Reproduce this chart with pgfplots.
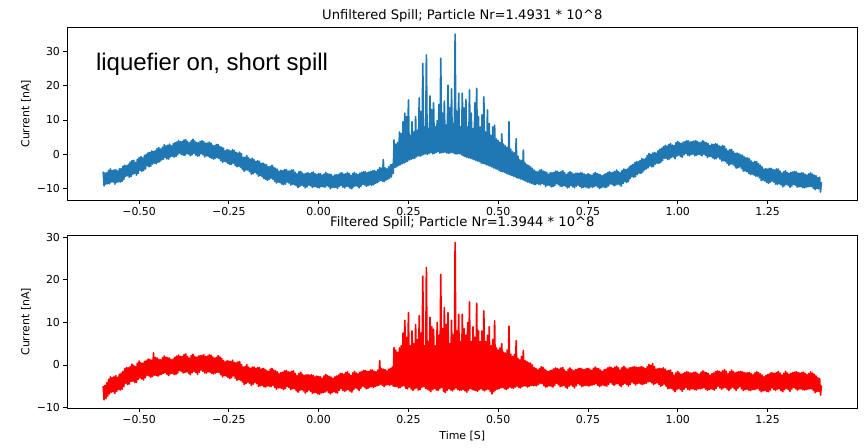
\documentclass[border=0pt]{standalone}
\usepackage{fontspec}
\setmainfont{DejaVu Sans}
\newfontfamily\arialfont{Liberation Sans}
\usepackage{pgfplots}
\usepackage{pgfplotstable}
\pgfplotsset{compat=1.18}
\definecolor{mplblue}{HTML}{1F77B4}
\definecolor{mplred}{HTML}{FF0000}

% unfiltered spill, one value every 0.0025 s from -0.6 s to 1.4 s
\pgfplotstableread[row sep=\\]{
y\\
-5.0\\ -9.1\\ -5.4\\ -8.6\\ -5.3\\ -8.5\\ -4.6\\ -8.5\\ -4.2\\ -8.0\\ -4.7\\ -8.0\\ -4.5\\ -8.6\\ -4.4\\ -8.1\\ -4.8\\ -7.9\\ -4.2\\ -8.0\\
-4.1\\ -7.8\\ -3.4\\ -7.3\\ -3.1\\ -6.4\\ -3.3\\ -6.2\\ -2.9\\ -6.6\\ -2.2\\ -6.4\\ -1.8\\ -5.8\\ -1.7\\ -5.5\\ -2.3\\ -6.0\\ -1.4\\ -5.5\\
-0.9\\ -4.6\\ -0.6\\ -4.9\\ -1.0\\ -4.7\\ -0.3\\ -4.2\\ 0.0\\ -3.3\\ 0.5\\ -3.6\\ 0.6\\ -3.4\\ 1.0\\ -2.8\\ 0.9\\ -2.5\\ 1.1\\ -2.7\\
1.7\\ -2.3\\ 2.0\\ -2.1\\ 1.6\\ -1.6\\ 2.1\\ -1.4\\ 2.8\\ -0.9\\ 2.5\\ -1.3\\ 2.7\\ -1.3\\ 3.0\\ -0.7\\ 2.5\\ -0.5\\ 3.1\\ -0.8\\
3.4\\ -0.6\\ 3.6\\ -0.1\\ 4.0\\ 0.4\\ 3.7\\ 0.0\\ 3.8\\ -0.2\\ 4.2\\ -0.3\\ 4.3\\ 0.2\\ 3.8\\ 0.1\\ 3.4\\ -0.4\\ 4.0\\ -0.1\\
4.4\\ 0.3\\ 3.9\\ -0.2\\ 3.5\\ -0.5\\ 3.4\\ -0.4\\ 3.8\\ 0.2\\ 4.0\\ -0.1\\ 3.7\\ -0.7\\ 3.3\\ -0.4\\ 3.3\\ -0.5\\ 3.6\\ -0.9\\
3.3\\ -1.1\\ 2.7\\ -1.4\\ 2.5\\ -1.1\\ 2.9\\ -0.9\\ 2.9\\ -1.2\\ 2.3\\ -1.8\\ 2.1\\ -2.3\\ 1.8\\ -2.0\\ 1.1\\ -2.2\\ 1.4\\ -2.6\\
1.3\\ -2.9\\ 1.0\\ -2.9\\ 1.4\\ -2.5\\ 1.2\\ -3.2\\ 0.6\\ -3.6\\ 0.4\\ -3.4\\ 0.7\\ -3.7\\ 0.2\\ -4.3\\ -0.8\\ -4.9\\ -0.8\\ -4.5\\
-0.3\\ -4.5\\ -1.0\\ -5.0\\ -1.4\\ -5.7\\ -1.1\\ -5.6\\ -1.5\\ -5.2\\ -2.0\\ -5.6\\ -1.8\\ -6.3\\ -2.0\\ -6.1\\ -2.6\\ -6.5\\ -2.5\\ -7.0\\
-2.8\\ -7.2\\ -3.0\\ -7.5\\ -3.6\\ -7.2\\ -3.5\\ -6.9\\ -3.1\\ -7.2\\ -3.7\\ -7.8\\ -4.0\\ -8.3\\ -4.3\\ -8.0\\ -4.9\\ -8.2\\ -4.6\\ -8.6\\
-4.7\\ -8.8\\ -4.4\\ -8.6\\ -4.4\\ -8.0\\ -4.8\\ -8.3\\ -4.8\\ -8.9\\ -4.5\\ -8.6\\ -4.5\\ -8.8\\ -5.2\\ -9.1\\ -5.6\\ -9.6\\ -5.0\\ -9.3\\
-4.9\\ -8.9\\ -5.4\\ -9.2\\ -5.7\\ -9.7\\ -5.4\\ -9.4\\ -5.3\\ -8.9\\ -5.6\\ -9.1\\ -5.3\\ -9.6\\ -5.1\\ -9.3\\ -5.6\\ -9.4\\ -5.8\\ -9.6\\
-5.5\\ -9.7\\ -5.6\\ -9.3\\ -6.0\\ -9.4\\ -5.7\\ -9.5\\ -5.2\\ -9.1\\ -5.6\\ -9.3\\ -5.7\\ -10.0\\ -5.8\\ -9.6\\ -6.3\\ -9.6\\ -5.9\\ -9.5\\
-5.9\\ -9.9\\ -5.8\\ -9.3\\ -5.4\\ -9.0\\ -5.3\\ -9.5\\ -5.7\\ -9.7\\ -5.6\\ -9.2\\ -5.2\\ -9.3\\ -5.5\\ -9.8\\ -6.1\\ -10.0\\ -5.5\\ -9.4\\
-5.2\\ -9.1\\ -5.6\\ -9.2\\ -5.8\\ -9.7\\ -5.4\\ -9.3\\ -5.2\\ -8.7\\ -5.0\\ -8.8\\ -5.0\\ -9.2\\ -5.3\\ -9.0\\ -5.1\\ -8.8\\ -4.9\\ -9.0\\
-4.8\\ -8.8\\ -4.6\\ -8.4\\ -4.9\\ -8.2\\ -4.4\\ -7.9\\ -3.8\\ -7.5\\ -4.0\\ -7.8\\ -1.5\\ -7.9\\ -3.9\\ -7.4\\ -4.2\\ -7.2\\ -3.6\\ -6.9\\
-3.0\\ -6.5\\ -2.8\\ -5.5\\ 4.2\\ -3.8\\ 3.0\\ -3.6\\ 3.5\\ -3.2\\ 6.5\\ -3.0\\ 6.0\\ -2.7\\ 9.5\\ -2.5\\ 12.0\\ -2.2\\ 11.0\\ -2.0\\
15.8\\ -1.6\\ 5.5\\ -1.4\\ 9.5\\ -1.2\\ 6.5\\ -1.1\\ 11.0\\ -0.7\\ 7.0\\ -0.4\\ 16.4\\ -0.5\\ 12.5\\ -0.3\\ 26.4\\ 0.0\\ 8.0\\ 0.2\\
28.9\\ 0.0\\ 7.5\\ 0.3\\ 17.0\\ 0.5\\ 13.0\\ 0.2\\ 15.0\\ 0.3\\ 8.0\\ 0.6\\ 9.8\\ 0.8\\ 14.5\\ 0.4\\ 27.9\\ 0.5\\ 12.0\\ 0.6\\
15.5\\ 0.7\\ 8.5\\ 0.4\\ 20.1\\ 0.3\\ 13.5\\ 0.5\\ 19.0\\ 0.6\\ 9.0\\ 0.3\\ 34.9\\ 0.1\\ 12.5\\ 0.2\\ 17.8\\ 0.2\\ 8.0\\ -0.1\\
17.8\\ -0.4\\ 13.5\\ -0.6\\ 16.0\\ -0.8\\ 8.0\\ -1.0\\ 18.7\\ -1.1\\ 12.0\\ -1.3\\ 7.5\\ -1.5\\ 15.0\\ -1.7\\ 19.2\\ -1.9\\ 11.0\\ -2.1\\
8.0\\ -2.5\\ 11.5\\ -2.6\\ 16.7\\ -2.7\\ 6.5\\ -3.0\\ 12.9\\ -3.2\\ 9.0\\ -3.4\\ 5.5\\ -3.6\\ 8.0\\ -3.9\\ 8.5\\ -4.1\\ 4.5\\ -4.3\\
4.0\\ -4.7\\ 3.5\\ -4.9\\ 6.0\\ -5.0\\ 3.0\\ -5.2\\ 2.5\\ -5.5\\ 2.0\\ -5.7\\ 9.5\\ -5.9\\ 1.5\\ -6.1\\ 0.8\\ -6.3\\ 0.5\\ -6.5\\
4.6\\ -6.8\\ -0.5\\ -6.9\\ -1.5\\ -7.1\\ -1.8\\ -7.3\\ 1.3\\ -7.6\\ -2.5\\ -7.8\\ -3.0\\ -8.0\\ -3.2\\ -8.2\\ -3.6\\ -8.4\\ -4.0\\ -8.6\\
-4.5\\ -8.8\\ -4.9\\ -8.5\\ -5.1\\ -8.6\\ -4.6\\ -8.8\\ -4.4\\ -8.4\\ -4.8\\ -8.7\\ -5.0\\ -9.3\\ -5.2\\ -8.9\\ -5.7\\ -9.0\\ -5.3\\ -9.4\\
-5.3\\ -9.3\\ -5.2\\ -9.0\\ -4.8\\ -8.5\\ -4.9\\ -8.8\\ -5.2\\ -9.2\\ -5.0\\ -9.3\\ -4.7\\ -9.0\\ -5.3\\ -9.2\\ -5.8\\ -9.7\\ -5.3\\ -9.5\\
-5.0\\ -9.0\\ -5.3\\ -9.4\\ -5.7\\ -9.7\\ -5.5\\ -9.2\\ -5.4\\ -8.9\\ -5.5\\ -9.3\\ -5.3\\ -9.7\\ -5.4\\ -9.5\\ -5.7\\ -9.4\\ -5.9\\ -9.6\\
-5.6\\ -9.8\\ -5.8\\ -9.4\\ -6.1\\ -9.5\\ -5.6\\ -9.3\\ -5.2\\ -9.1\\ -5.5\\ -9.5\\ -5.7\\ -9.9\\ -5.9\\ -9.6\\ -6.2\\ -9.4\\ -5.8\\ -9.6\\
-5.6\\ -9.5\\ -5.2\\ -9.1\\ -5.0\\ -8.5\\ -5.3\\ -8.7\\ -5.1\\ -9.1\\ -4.9\\ -8.9\\ -4.5\\ -8.6\\ -5.0\\ -8.8\\ -5.3\\ -9.2\\ -4.6\\ -8.4\\
-4.2\\ -7.9\\ -4.4\\ -8.1\\ -4.2\\ -7.9\\ -3.6\\ -7.0\\ -3.2\\ -6.4\\ -2.9\\ -6.6\\ -2.4\\ -6.4\\ -2.1\\ -5.8\\ -2.1\\ -5.4\\ -1.8\\ -5.5\\
-1.2\\ -5.1\\ -1.4\\ -4.5\\ -1.1\\ -4.2\\ -0.3\\ -3.9\\ 0.3\\ -3.3\\ 0.0\\ -3.6\\ 0.4\\ -3.5\\ 0.6\\ -2.8\\ 0.4\\ -2.5\\ 1.0\\ -2.6\\
1.5\\ -2.3\\ 1.8\\ -1.8\\ 2.3\\ -1.1\\ 2.6\\ -1.1\\ 2.4\\ -1.5\\ 2.9\\ -1.3\\ 3.2\\ -0.8\\ 2.7\\ -0.7\\ 2.6\\ -1.2\\ 3.4\\ -0.5\\
3.8\\ -0.2\\ 3.4\\ -0.6\\ 3.2\\ -0.8\\ 3.6\\ -0.1\\ 3.7\\ 0.3\\ 4.0\\ -0.2\\ 3.9\\ -0.4\\ 3.6\\ 0.0\\ 3.7\\ 0.1\\ 3.9\\ -0.4\\
4.0\\ -0.3\\ 3.8\\ 0.0\\ 3.4\\ -0.1\\ 3.6\\ -0.4\\ 4.0\\ 0.1\\ 3.6\\ -0.3\\ 3.4\\ -0.9\\ 3.1\\ -0.6\\ 2.6\\ -0.6\\ 3.0\\ -1.0\\
2.9\\ -1.3\\ 3.1\\ -1.2\\ 3.0\\ -0.8\\ 2.5\\ -1.3\\ 2.3\\ -1.9\\ 2.6\\ -1.8\\ 2.4\\ -2.0\\ 1.6\\ -2.6\\ 1.0\\ -3.1\\ 1.4\\ -2.8\\
1.5\\ -2.8\\ 0.8\\ -3.3\\ 0.3\\ -4.0\\ 0.4\\ -3.9\\ 0.2\\ -3.6\\ -0.1\\ -4.1\\ -0.2\\ -4.8\\ -0.7\\ -4.8\\ -1.0\\ -5.0\\ -1.0\\ -5.5\\
-1.3\\ -5.8\\ -1.9\\ -5.7\\ -2.3\\ -6.0\\ -2.0\\ -6.3\\ -2.1\\ -6.3\\ -2.7\\ -6.8\\ -3.1\\ -7.6\\ -3.6\\ -7.4\\ -4.3\\ -7.7\\ -4.1\\ -8.1\\
-4.3\\ -8.4\\ -4.0\\ -8.1\\ -4.0\\ -7.7\\ -4.4\\ -8.0\\ -4.5\\ -8.6\\ -4.2\\ -8.7\\ -4.2\\ -8.5\\ -4.8\\ -8.8\\ -5.4\\ -9.4\\ -5.0\\ -9.1\\
-4.7\\ -8.7\\ -5.2\\ -9.0\\ -5.5\\ -9.5\\ -5.2\\ -9.2\\ -5.1\\ -8.7\\ -4.9\\ -9.0\\ -5.1\\ -9.5\\ -5.4\\ -9.4\\ -5.5\\ -9.3\\ -5.3\\ -9.6\\
-5.4\\ -9.7\\ -5.8\\ -9.5\\ -6.0\\ -9.4\\ -5.6\\ -9.3\\ -5.3\\ -9.3\\ -5.7\\ -9.8\\ -6.0\\ -10.2\\ -6.2\\ -9.9\\ -6.7\\ -10.0\\ -6.6\\ -10.9\\
-8.0\\
}\topdata

% filtered spill, same time base
\pgfplotstableread[row sep=\\]{
y\\
-5.0\\ -8.2\\ -4.8\\ -7.9\\ -4.2\\ -7.3\\ -3.4\\ -6.8\\ -2.8\\ -6.4\\ -3.0\\ -6.3\\ -2.8\\ -6.7\\ -2.5\\ -6.2\\ -2.9\\ -5.8\\ -2.2\\ -5.9\\
-1.9\\ -5.7\\ -1.5\\ -5.1\\ -0.9\\ -4.3\\ -0.6\\ -4.6\\ -0.7\\ -4.5\\ -0.4\\ -3.9\\ 0.2\\ -3.8\\ -0.1\\ -4.1\\ -0.4\\ -4.1\\ 0.4\\ -3.4\\
0.9\\ -3.0\\ 0.5\\ -3.3\\ 0.4\\ -3.5\\ 0.8\\ -3.0\\ 1.0\\ -2.4\\ 1.4\\ -2.6\\ 1.3\\ -2.9\\ 1.1\\ -2.7\\ 2.8\\ -2.4\\ 1.8\\ -2.5\\
1.6\\ -2.6\\ 1.3\\ -2.3\\ 1.2\\ -2.2\\ 1.7\\ -2.0\\ 2.1\\ -1.8\\ 1.8\\ -2.2\\ 1.7\\ -2.5\\ 1.6\\ -2.1\\ 1.2\\ -2.0\\ 1.4\\ -2.3\\
1.8\\ -2.2\\ 2.1\\ -1.9\\ 2.3\\ -1.3\\ 2.0\\ -1.5\\ 2.0\\ -1.9\\ 2.4\\ -1.8\\ 2.6\\ -1.6\\ 2.0\\ -1.9\\ 1.6\\ -2.3\\ 2.2\\ -1.8\\
2.5\\ -1.5\\ 2.0\\ -1.8\\ 1.8\\ -2.2\\ 2.1\\ -1.7\\ 2.2\\ -1.2\\ 2.2\\ -1.5\\ 2.4\\ -1.9\\ 2.0\\ -1.9\\ 2.1\\ -1.6\\ 2.4\\ -1.7\\
2.3\\ -2.0\\ 1.9\\ -2.1\\ 1.6\\ -1.9\\ 1.8\\ -1.7\\ 2.2\\ -1.8\\ 1.9\\ -2.3\\ 1.5\\ -2.8\\ 1.0\\ -2.5\\ 0.7\\ -2.6\\ 1.0\\ -2.9\\
0.9\\ -3.2\\ 0.8\\ -3.0\\ 1.1\\ -2.6\\ 0.6\\ -3.1\\ 0.5\\ -3.6\\ 0.7\\ -3.4\\ 0.8\\ -3.6\\ 0.1\\ -4.0\\ -0.5\\ -4.6\\ -0.4\\ -4.4\\
0.1\\ -4.0\\ -0.5\\ -4.3\\ -0.8\\ -4.8\\ -0.5\\ -4.5\\ -0.5\\ -4.1\\ -0.8\\ -4.4\\ -0.6\\ -5.0\\ -0.6\\ -4.9\\ -1.0\\ -4.8\\ -0.8\\ -5.1\\
-1.0\\ -5.2\\ -1.3\\ -4.9\\ -1.5\\ -5.0\\ -1.0\\ -5.1\\ -0.8\\ -4.8\\ -1.2\\ -5.3\\ -1.4\\ -5.7\\ -1.6\\ -5.4\\ -2.1\\ -5.4\\ -1.8\\ -5.5\\
-1.7\\ -5.8\\ -1.4\\ -5.5\\ -1.3\\ -5.0\\ -1.6\\ -5.3\\ -1.7\\ -5.8\\ -1.5\\ -5.6\\ -1.4\\ -5.6\\ -2.0\\ -6.1\\ -2.5\\ -6.4\\ -2.0\\ -6.0\\
-1.7\\ -5.8\\ -2.2\\ -6.1\\ -2.5\\ -6.6\\ -2.3\\ -6.3\\ -2.3\\ -5.9\\ -2.4\\ -6.2\\ -2.3\\ -6.7\\ -2.5\\ -6.5\\ -2.8\\ -6.5\\ -2.6\\ -6.8\\
-2.7\\ -6.9\\ -2.8\\ -6.6\\ -3.1\\ -6.5\\ -2.6\\ -6.4\\ -2.2\\ -6.1\\ -2.5\\ -6.5\\ -2.7\\ -6.8\\ -2.9\\ -6.5\\ -3.2\\ -6.3\\ -2.8\\ -6.5\\
-2.6\\ -6.6\\ -2.4\\ -6.0\\ -2.0\\ -5.6\\ -2.0\\ -6.0\\ -2.2\\ -6.2\\ -1.8\\ -5.9\\ -1.6\\ -5.8\\ -2.1\\ -6.2\\ -2.5\\ -6.4\\ -1.9\\ -5.8\\
-1.5\\ -5.4\\ -1.9\\ -5.6\\ -2.1\\ -6.0\\ -1.7\\ -5.5\\ -1.6\\ -5.0\\ -1.3\\ -5.2\\ -1.3\\ -5.6\\ -1.5\\ -5.5\\ -1.5\\ -5.2\\ -1.2\\ -5.1\\
-1.2\\ -5.3\\ -1.5\\ -5.0\\ -1.6\\ -4.9\\ -1.2\\ -4.8\\ 1.0\\ -4.5\\ -0.9\\ -4.8\\ -1.0\\ -5.1\\ -1.1\\ -4.7\\ -1.4\\ -4.6\\ -1.0\\ -4.8\\
-0.8\\ -4.6\\ -0.5\\ -5.0\\ 4.1\\ -5.1\\ 3.5\\ -5.0\\ 3.0\\ -5.4\\ 4.0\\ -5.3\\ 4.5\\ -5.0\\ 7.5\\ -4.9\\ 10.5\\ -5.5\\ 6.5\\ -5.6\\
12.3\\ -5.2\\ 4.5\\ -5.7\\ 8.0\\ -6.0\\ 5.0\\ -5.6\\ 9.5\\ -5.4\\ 6.0\\ -5.9\\ 11.6\\ -5.8\\ 7.5\\ -5.3\\ 20.9\\ -5.1\\ 4.5\\ -5.5\\
22.9\\ -5.7\\ 5.5\\ -6.0\\ 11.2\\ -6.3\\ 9.0\\ -5.8\\ 8.4\\ -5.5\\ 4.5\\ -5.9\\ 10.0\\ -6.0\\ 7.0\\ -5.6\\ 21.3\\ -5.3\\ 8.5\\ -6.2\\
13.5\\ -6.5\\ 9.5\\ -6.0\\ 12.3\\ -5.6\\ 5.0\\ -5.9\\ 10.5\\ -6.1\\ 7.0\\ -5.7\\ 28.8\\ -5.4\\ 8.0\\ -5.8\\ 11.9\\ -6.0\\ 5.5\\ -5.9\\
11.9\\ -5.8\\ 8.5\\ -6.1\\ 7.0\\ -6.4\\ 10.0\\ -5.9\\ 14.8\\ -5.5\\ 5.5\\ -5.8\\ 9.0\\ -5.9\\ 6.5\\ -6.0\\ 14.5\\ -6.2\\ 8.0\\ -5.8\\
5.5\\ -5.6\\ 8.0\\ -5.9\\ 12.7\\ -6.1\\ 5.5\\ -5.8\\ 7.0\\ -5.7\\ 9.0\\ -6.2\\ 4.5\\ -6.8\\ 6.0\\ -6.3\\ 10.4\\ -5.9\\ 4.0\\ -5.7\\
3.5\\ -5.6\\ 4.0\\ -5.4\\ 5.0\\ -5.3\\ 3.0\\ -5.6\\ 2.8\\ -5.8\\ 3.5\\ -5.5\\ 9.1\\ -5.2\\ 2.5\\ -5.4\\ 2.0\\ -5.5\\ 2.5\\ -5.2\\
5.7\\ -5.0\\ 1.5\\ -5.3\\ 1.2\\ -5.4\\ 2.0\\ -5.1\\ 3.4\\ -4.9\\ 1.0\\ -5.0\\ 0.8\\ -5.2\\ 0.5\\ -5.0\\ 0.4\\ -4.8\\ 0.0\\ -4.9\\
-0.6\\ -4.8\\ -0.8\\ -4.9\\ -1.2\\ -4.6\\ -0.9\\ -4.3\\ -0.4\\ -4.4\\ -0.6\\ -4.9\\ -1.0\\ -5.2\\ -1.4\\ -5.1\\ -1.6\\ -4.9\\ -1.3\\ -5.0\\
-1.2\\ -5.2\\ -0.9\\ -4.8\\ -0.7\\ -4.3\\ -0.9\\ -4.7\\ -1.0\\ -5.1\\ -0.7\\ -5.0\\ -0.6\\ -4.8\\ -1.2\\ -5.2\\ -1.6\\ -5.5\\ -1.0\\ -5.0\\
-0.7\\ -4.7\\ -1.1\\ -5.0\\ -1.4\\ -5.4\\ -1.1\\ -4.9\\ -1.0\\ -4.4\\ -0.8\\ -4.7\\ -0.8\\ -5.1\\ -1.0\\ -4.9\\ -1.1\\ -4.8\\ -0.9\\ -4.8\\
-0.8\\ -5.0\\ -1.0\\ -4.8\\ -1.3\\ -4.7\\ -0.8\\ -4.6\\ -0.5\\ -4.4\\ -0.8\\ -4.8\\ -0.9\\ -5.1\\ -1.2\\ -4.8\\ -1.5\\ -4.7\\ -1.1\\ -4.9\\
-1.0\\ -5.0\\ -0.7\\ -4.6\\ -0.5\\ -4.1\\ -0.6\\ -4.5\\ -0.8\\ -4.8\\ -0.5\\ -4.5\\ -0.3\\ -4.4\\ -0.7\\ -4.8\\ -1.2\\ -5.1\\ -0.6\\ -4.6\\
-0.3\\ -4.3\\ -0.7\\ -4.6\\ -1.0\\ -5.0\\ -0.7\\ -4.6\\ -0.6\\ -4.0\\ -0.5\\ -4.3\\ -0.4\\ -4.7\\ -0.6\\ -4.4\\ -0.6\\ -4.3\\ -0.5\\ -4.5\\
-0.4\\ -4.6\\ -0.6\\ -4.4\\ -0.9\\ -4.3\\ -0.4\\ -4.0\\ 0.1\\ -3.9\\ -0.1\\ -4.2\\ 0.3\\ -4.6\\ -0.4\\ -4.4\\ -1.0\\ -4.2\\ -0.9\\ -4.6\\
-0.8\\ -5.0\\ -0.9\\ -4.8\\ -0.7\\ -4.5\\ -1.0\\ -5.0\\ -1.4\\ -5.6\\ -1.3\\ -5.5\\ -1.2\\ -5.5\\ -1.8\\ -5.9\\ -2.4\\ -6.3\\ -1.9\\ -5.8\\
-1.5\\ -5.5\\ -1.9\\ -5.8\\ -2.2\\ -6.2\\ -2.0\\ -5.7\\ -1.8\\ -5.3\\ -1.6\\ -5.7\\ -1.7\\ -5.9\\ -1.9\\ -5.6\\ -1.9\\ -5.6\\ -1.7\\ -5.8\\
-1.7\\ -5.9\\ -2.0\\ -5.6\\ -2.2\\ -5.6\\ -1.7\\ -5.5\\ -1.4\\ -5.3\\ -1.7\\ -5.7\\ -1.8\\ -6.0\\ -2.0\\ -5.8\\ -2.4\\ -5.6\\ -2.1\\ -5.7\\
-1.9\\ -5.9\\ -1.6\\ -5.5\\ -1.4\\ -5.0\\ -1.5\\ -5.4\\ -1.7\\ -5.7\\ -1.4\\ -5.4\\ -1.1\\ -5.3\\ -1.5\\ -5.7\\ -2.1\\ -6.0\\ -1.6\\ -5.6\\
-1.2\\ -5.2\\ -1.6\\ -5.6\\ -1.9\\ -6.0\\ -1.7\\ -5.5\\ -1.6\\ -5.1\\ -1.5\\ -5.6\\ -1.6\\ -6.0\\ -1.8\\ -5.8\\ -1.9\\ -5.7\\ -1.8\\ -5.9\\
-1.8\\ -6.0\\ -2.1\\ -5.8\\ -2.3\\ -5.8\\ -1.9\\ -5.7\\ -1.6\\ -5.5\\ -1.8\\ -5.9\\ -2.1\\ -6.3\\ -2.4\\ -6.1\\ -2.8\\ -6.0\\ -2.5\\ -6.2\\
-2.3\\ -6.3\\ -2.1\\ -5.9\\ -1.8\\ -5.4\\ -1.9\\ -5.8\\ -2.0\\ -6.0\\ -1.8\\ -5.7\\ -1.5\\ -5.6\\ -1.9\\ -6.0\\ -2.4\\ -6.3\\ -2.0\\ -5.8\\
-1.5\\ -5.5\\ -1.9\\ -5.8\\ -2.2\\ -6.2\\ -2.0\\ -5.7\\ -1.8\\ -5.3\\ -1.7\\ -5.6\\ -1.6\\ -5.9\\ -1.8\\ -5.7\\ -1.9\\ -5.6\\ -1.8\\ -5.8\\
-1.7\\ -5.9\\ -2.0\\ -5.8\\ -2.3\\ -5.7\\ -2.0\\ -5.6\\ -1.6\\ -5.6\\ -1.9\\ -6.0\\ -2.2\\ -6.5\\ -2.6\\ -6.3\\ -3.0\\ -6.2\\ -3.2\\ -7.1\\
-4.8\\
}\botdata

\pgfplotsset{
  spillaxis/.style={
    scale only axis, width=790pt, height=173pt,
    xmin=-0.7, xmax=1.5,
    axis line style={black, line width=0.88pt},
    every tick/.style={black, line width=0.88pt},
    major tick length=3.83pt,
    tick align=outside,
    xtick pos=left, ytick pos=left,
    xtick={-0.5,-0.25,0,0.25,0.5,0.75,1,1.25},
    xticklabels={−0.50,−0.25,0.00,0.25,0.50,0.75,1.00,1.25},
    ytick={-10,0,10,20,30},
    yticklabels={−10,0,10,20,30},
    tick label style={font=\fontsize{10.95}{13}\selectfont, text=black},
    ylabel={Current [nA]},
    ylabel style={at={(axis description cs:-0.0523,0.5)}, anchor=center, font=\fontsize{10.95}{13}\selectfont},
    every axis plot/.append style={line width=1.64pt, line join=round},
  }
}

\begin{document}
\begin{tikzpicture}
\useasboundingbox (0,0) rectangle (864pt,447pt);

\begin{axis}[spillaxis, name=top,
  at={(67.3pt,246.7pt)}, anchor=south west,
  ymin=-13.3, ymax=36.9]
\addplot[mplblue, no markers] table[x expr=\coordindex*0.0025-0.6, y=y] {\topdata};
\node[anchor=base west, inner sep=0pt, font=\arialfont\fontsize{24}{28}\selectfont] at (axis cs:-0.6206,24.3) {liquefier on, short spill};
\end{axis}

\begin{axis}[spillaxis, name=bot,
  at={(67.3pt,38.7pt)}, anchor=south west,
  ymin=-10.2, ymax=30.5,
  xlabel={Time [S]},
  xlabel style={at={(axis description cs:0.5,-0.16)}, anchor=center, font=\fontsize{10.95}{13}\selectfont}]
\addplot[mplred, no markers] table[x expr=\coordindex*0.0025-0.6, y=y] {\botdata};
\end{axis}

\node[anchor=base, inner sep=0pt, font=\fontsize{13.1}{15}\selectfont] at ([yshift=7.7pt]top.north) {Unfiltered Spill; Particle Nr=1.4931 * 10\^{}8};
\node[anchor=base, inner sep=0pt, font=\fontsize{13.1}{15}\selectfont] at ([yshift=9pt]bot.north) {Filtered Spill; Particle Nr=1.3944 * 10\^{}8};
\end{tikzpicture}
\end{document}
